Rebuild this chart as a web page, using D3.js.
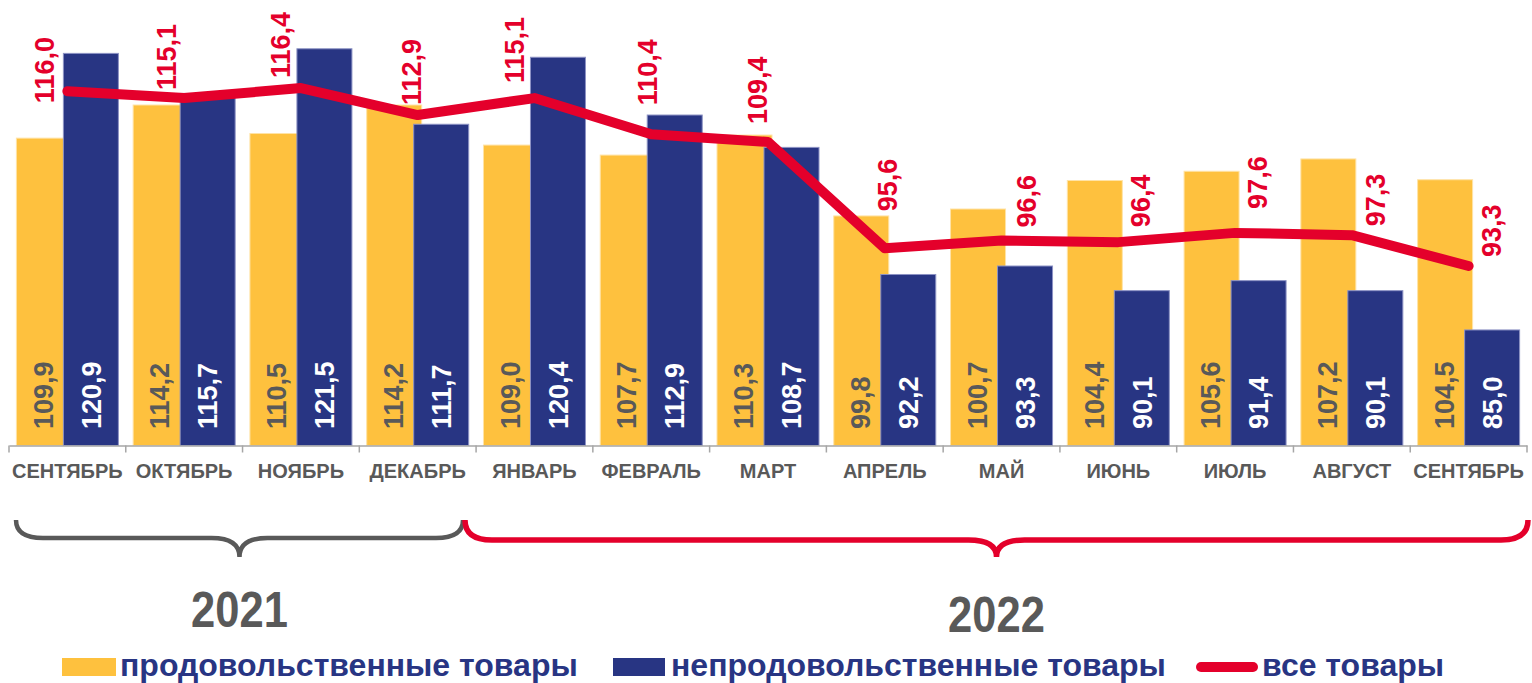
<!DOCTYPE html>
<html>
<head>
<meta charset="utf-8">
<script src="https://cdn.jsdelivr.net/npm/d3@7"></script>
<style>
  html, body { margin: 0; padding: 0; background: #ffffff; }
  svg { display: block; font-family: "Liberation Sans", Arial, sans-serif; }
</style>
</head>
<body>
<svg id="chart" width="1532" height="683"></svg>
<script>
// ---- data ----
const categories = ["СЕНТЯБРЬ", "ОКТЯБРЬ", "НОЯБРЬ", "ДЕКАБРЬ", "ЯНВАРЬ", "ФЕВРАЛЬ", "МАРТ",
                    "АПРЕЛЬ", "МАЙ", "ИЮНЬ", "ИЮЛЬ", "АВГУСТ", "СЕНТЯБРЬ "];
const foodValues    = [109.9, 114.2, 110.5, 114.2, 109.0, 107.7, 110.3, 99.8, 100.7, 104.4, 105.6, 107.2, 104.5];
const nonFoodValues = [120.9, 115.7, 121.5, 111.7, 120.4, 112.9, 108.7, 92.2, 93.3, 90.1, 91.4, 90.1, 85.0];
const allValues     = [116.0, 115.1, 116.4, 112.9, 115.1, 110.4, 109.4, 95.6, 96.6, 96.4, 97.6, 97.3, 93.3];
const yearLabels = ["2021", "2022"];
const seriesNames = ["продовольственные товары", "непродовольственные товары", "все товары"];

// label nudges for the line labels (pixels, relative to the line point)
const lineLabelDx = [-23, -18, -21, -6, -20, -4, -11, 2, 25, 22, 22, 23, 23];
const lineLabelDy = [12, -8, -10, -10, -15, -29, -18, -37, -13, -15, -24, -9, -9];

// ---- styles ----
const YELLOW = "#FEC13E", BLUE = "#283583", RED = "#E4002B", GRAY = "#595959";
const fmt = v => d3.format(".1f")(v).replace(".", ",");

const svg = d3.select("#chart");
const x = d3.scaleBand().domain(categories).range([9, 1527]).paddingInner(0).paddingOuter(0);
const y = d3.scaleLinear().domain([70, 128]).range([445.5, -1.3]);
const bw = x.bandwidth();
const cx = c => x(c) + bw / 2;
const barW = 55;

// bars
const g = svg.append("g");
g.selectAll("rect.food").data(categories).join("rect")
  .attr("class", "food")
  .attr("x", c => cx(c) - 51).attr("width", barW)
  .attr("y", (c, i) => y(foodValues[i]))
  .attr("height", (c, i) => y(70) - y(foodValues[i]))
  .attr("fill", YELLOW).attr("stroke", "#ffe3a6").attr("stroke-width", 1);

g.selectAll("rect.nonfood").data(categories).join("rect")
  .attr("class", "nonfood")
  .attr("x", c => cx(c) - 4).attr("width", barW)
  .attr("y", (c, i) => y(nonFoodValues[i]))
  .attr("height", (c, i) => y(70) - y(nonFoodValues[i]))
  .attr("fill", BLUE).attr("stroke", "#8c92c4").attr("stroke-width", 1);

// bar value labels
g.selectAll("text.foodlab").data(categories).join("text")
  .attr("transform", c => `translate(${cx(c) - 24.5},429) rotate(-90)`)
  .attr("dy", "0.36em")
  .attr("font-size", 27).attr("font-weight", "bold").attr("fill", GRAY)
  .text((c, i) => fmt(foodValues[i]));

g.selectAll("text.nonfoodlab").data(categories).join("text")
  .attr("transform", c => `translate(${cx(c) + 23.5},429) rotate(-90)`)
  .attr("dy", "0.36em")
  .attr("font-size", 27).attr("font-weight", "bold").attr("fill", "#ffffff")
  .text((c, i) => fmt(nonFoodValues[i]));

// axis
const axis = svg.append("g").attr("transform", `translate(0,${y(70)})`)
  .call(d3.axisBottom(x).tickSize(0).tickSizeOuter(0).tickPadding(18.5));
axis.select(".domain").attr("stroke", "#a6a6a6").attr("stroke-width", 1.5);
axis.selectAll(".tick text")
  .attr("font-size", 20).attr("font-weight", "bold").attr("fill", GRAY)
  .attr("font-family", "'Liberation Sans', Arial, sans-serif");
axis.selectAll("line.bound").data(categories.map(c => x(c)).concat([x(categories[categories.length - 1]) + bw]))
  .join("line").attr("class", "bound")
  .attr("x1", d => d).attr("x2", d => d).attr("y1", 0).attr("y2", 7)
  .attr("stroke", "#a6a6a6").attr("stroke-width", 1.5);

// line
const line = d3.line().x(d => cx(d.c)).y(d => y(d.v));
const lineData = categories.map((c, i) => ({ c, v: allValues[i] }));
svg.append("path").datum(lineData)
  .attr("d", line).attr("fill", "none").attr("stroke", RED)
  .attr("stroke-width", 10).attr("stroke-linejoin", "round").attr("stroke-linecap", "round");

svg.selectAll("text.alllab").data(lineData).join("text")
  .attr("transform", (d, i) => `translate(${cx(d.c) + lineLabelDx[i]},${y(d.v) + lineLabelDy[i]}) rotate(-90)`)
  .attr("dy", "0.36em")
  .attr("font-size", 27).attr("font-weight", "bold").attr("fill", RED)
  .text(d => fmt(d.v));

// braces
function bracePath(x0, x1, yTop, yLine, yTip) {
  const mid = (x0 + x1) / 2, r = 27, r2 = 28;
  return `M${x0},${yTop} Q${x0},${yLine} ${x0 + r},${yLine} L${mid - r2},${yLine} Q${mid},${yLine} ${mid},${yTip}` +
         ` Q${mid},${yLine} ${mid + r2},${yLine} L${x1 - r},${yLine} Q${x1},${yLine} ${x1},${yTop}`;
}
const braces = [
  { x0: 16, x1: 463, yLine: 538, color: GRAY, w: 4.5, ty: 627 },
  { x0: 465, x1: 1528, yLine: 540, color: RED, w: 5.5, ty: 632 }
];
braces.forEach((b, k) => {
  svg.append("path")
    .attr("d", bracePath(b.x0, b.x1, 520, b.yLine, 557))
    .attr("fill", "none").attr("stroke", b.color).attr("stroke-width", b.w);
  svg.append("text")
    .attr("transform", `translate(${(b.x0 + b.x1) / 2},${b.ty}) scale(0.87,1)`)
    .attr("text-anchor", "middle")
    .attr("font-size", 50).attr("font-weight", "bold").attr("fill", GRAY)
    .text(yearLabels[k]);
});

// legend
const leg = svg.append("g");
leg.append("rect").attr("x", 62).attr("y", 658).attr("width", 54).attr("height", 18).attr("fill", YELLOW);
leg.append("text").attr("x", 120).attr("y", 676).attr("font-size", 32).attr("font-weight", "bold")
  .attr("fill", BLUE).text(seriesNames[0]);
leg.append("rect").attr("x", 613).attr("y", 658).attr("width", 52).attr("height", 18).attr("fill", BLUE);
leg.append("text").attr("x", 671).attr("y", 676).attr("font-size", 32).attr("font-weight", "bold")
  .attr("fill", BLUE).text(seriesNames[1]);
leg.append("line").attr("x1", 1201).attr("x2", 1253).attr("y1", 667).attr("y2", 667)
  .attr("stroke", RED).attr("stroke-width", 10).attr("stroke-linecap", "round");
leg.append("text").attr("x", 1262).attr("y", 676).attr("font-size", 32).attr("font-weight", "bold")
  .attr("fill", BLUE).text(seriesNames[2]);
</script>
</body>
</html>
